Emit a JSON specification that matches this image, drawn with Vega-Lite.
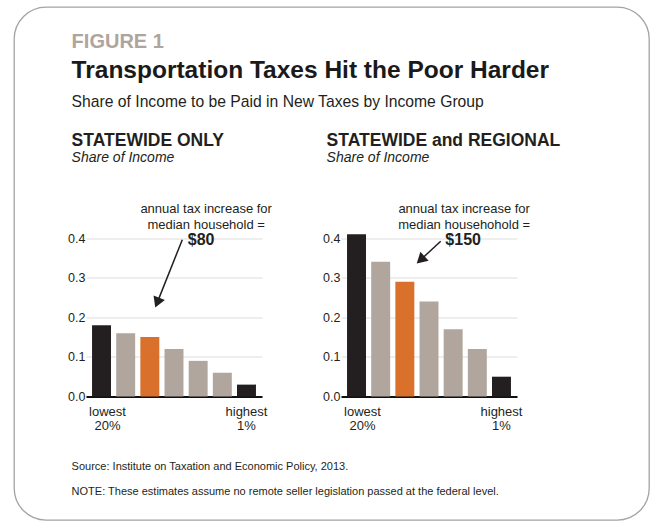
{
  "$schema": "https://vega.github.io/schema/vega-lite/v6.json",
  "padding": {"left": 13, "top": 6, "right": 5, "bottom": 5},
  "background": "white",
  "config": {
    "font": "Liberation Sans",
    "view": {"stroke": null},
    "axis": {"labelFont": "Liberation Sans", "labelColor": "#231f20", "labelFontSize": 13, "title": null}
  },
  "datasets": {
    "statewide": [
      {"group": "Lowest 20%", "share": 0.18},
      {"group": "Second 20%", "share": 0.16},
      {"group": "Middle 20%", "share": 0.15},
      {"group": "Fourth 20%", "share": 0.12},
      {"group": "Next 15%", "share": 0.09},
      {"group": "Next 4%", "share": 0.06},
      {"group": "Top 1%", "share": 0.03}
    ],
    "regional": [
      {"group": "Lowest 20%", "share": 0.41},
      {"group": "Second 20%", "share": 0.34},
      {"group": "Middle 20%", "share": 0.29},
      {"group": "Fourth 20%", "share": 0.24},
      {"group": "Next 15%", "share": 0.17},
      {"group": "Next 4%", "share": 0.12},
      {"group": "Top 1%", "share": 0.05}
    ]
  },
  "columns": 1,
  "align": "none",
  "spacing": -489.5,
  "concat": [
    {
      "width": 635,
      "height": 513,
      "view": {"stroke": "#a3a3a3", "strokeWidth": 1.3, "cornerRadius": 32, "fill": null},
      "data": {"values": []},
      "mark": "point",
      "encoding": {}
    },
    {
      "spacing": 0,
      "hconcat": [
        {
          "width": 53,
          "height": 10,
          "data": {"values": []},
          "mark": "point",
          "encoding": {}
        },
        {
          "title": {
            "text": "FIGURE 1",
            "subtitle": "Transportation Taxes Hit the Poor Harder",
            "anchor": "start",
            "dx": 4,
            "fontSize": 20,
            "fontWeight": "bold",
            "color": "#afa59d",
            "subtitleFontSize": 24.5,
            "subtitleFontWeight": "bold",
            "subtitleColor": "#1a1a1a",
            "subtitlePadding": 7,
            "offset": 12
          },
          "vconcat": [
            {
              "title": {
                "text": "Share of Income to be Paid in New Taxes by Income Group",
                "anchor": "start",
                "dx": 4,
                "fontSize": 15.7,
                "fontWeight": "normal",
                "color": "#231f20",
                "offset": 21
              },
              "vconcat": [
                {
                  "title": {
                    "text": ["Source: Institute on Taxation and Economic Policy, 2013.", "NOTE: These estimates assume no remote seller legislation passed at the federal level."],
                    "orient": "bottom",
                    "anchor": "start",
                    "dx": 4,
                    "fontSize": 11,
                    "fontWeight": "normal",
                    "color": "#231f20",
                    "lineHeight": 25,
                    "offset": 29
                  },
                  "spacing": 50,
                  "hconcat": [
                    {
                      "width": 176,
                      "height": 198,
                      "title": {"text": "STATEWIDE ONLY", "subtitle": "Share of Income", "anchor": "start", "dx": 4, "fontSize": 17.5, "fontWeight": "bold", "color": "#231f20", "subtitleFontSize": 14, "subtitleFontStyle": "italic", "subtitleColor": "#231f20", "subtitlePadding": 1, "offset": 34},
                      "data": {"name": "statewide"},
                      "layer": [
                        {
                          "mark": {"type": "bar"},
                          "encoding": {
                            "x": {"field": "group", "type": "nominal", "sort": null,
                              "scale": {"domain": ["Lowest 20%", "Second 20%", "Middle 20%", "Fourth 20%", "Next 15%", "Next 4%", "Top 1%"], "paddingInner": 0.215, "paddingOuter": 0.25},
                              "axis": {"domainColor": "#111111", "domainWidth": 2, "ticks": false, "labelAngle": 0, "labelPadding": 9, "labelLineHeight": 13.5, "labelBaseline": "top",
                                "labelOffset": {"condition": {"test": "datum.value == 'Lowest 20%'", "value": 6}, "value": 0},
                                "labelExpr": "datum.value == 'Lowest 20%' ? ['lowest', '20%'] : datum.value == 'Top 1%' ? ['highest', '1%'] : ''"}},
                            "y": {"field": "share", "type": "quantitative", "scale": {"domain": [0, 0.5], "nice": false},
                              "axis": {"domain": false, "ticks": false, "grid": true, "gridColor": "#dddddd", "values": [0, 0.1, 0.2, 0.3, 0.4], "format": ".1f", "labelPadding": 1, "labelFontSize": 12.5}},
                            "color": {"field": "group", "type": "nominal", "legend": null,
                              "scale": {"domain": ["Lowest 20%", "Second 20%", "Middle 20%", "Fourth 20%", "Next 15%", "Next 4%", "Top 1%"], "range": ["#231f20", "#b0a69e", "#d9702b", "#b0a69e", "#b0a69e", "#b0a69e", "#231f20"]}}
                          }
                        },
                        {
                          "data": {"values": [{}]},
                          "mark": {"type": "text", "fontSize": 13, "dx": 8, "align": "center", "baseline": "alphabetic", "lineHeight": 15.5, "color": "#231f20"},
                          "encoding": {"x": {"datum": "Next 15%"}, "y": {"datum": 0.463}, "text": {"value": ["annual tax increase for", "median household ="]}}
                        },
                        {
                          "data": {"values": [{}]},
                          "mark": {"type": "text", "fontSize": 16, "fontWeight": "bold", "dx": 3, "align": "center", "baseline": "alphabetic", "color": "#231f20"},
                          "encoding": {"x": {"datum": "Next 15%"}, "y": {"datum": 0.382}, "text": {"value": "$80"}}
                        },
                        {
                          "data": {"values": [{}]},
                          "mark": {"type": "rule", "strokeWidth": 1.5, "color": "#231f20", "xOffset": 8.3, "x2Offset": -16.5},
                          "encoding": {"x": {"datum": "Fourth 20%"}, "x2": {"datum": "Fourth 20%"}, "y": {"datum": 0.396}, "y2": {"datum": 0.239}}
                        },
                        {
                          "data": {"values": [{}]},
                          "mark": {"type": "point", "shape": "triangle-down", "filled": true, "opacity": 1, "size": 150, "angle": 22, "color": "#231f20", "xOffset": 7.4},
                          "encoding": {"x": {"datum": "Middle 20%"}, "y": {"datum": 0.237}}
                        }
                      ]
                    },
                    {
                      "width": 176,
                      "height": 198,
                      "title": {"text": "STATEWIDE and REGIONAL", "subtitle": "Share of Income", "anchor": "start", "dx": 4, "fontSize": 17.5, "fontWeight": "bold", "color": "#231f20", "subtitleFontSize": 14, "subtitleFontStyle": "italic", "subtitleColor": "#231f20", "subtitlePadding": 1, "offset": 34},
                      "data": {"name": "regional"},
                      "layer": [
                        {
                          "mark": {"type": "bar"},
                          "encoding": {
                            "x": {"field": "group", "type": "nominal", "sort": null,
                              "scale": {"domain": ["Lowest 20%", "Second 20%", "Middle 20%", "Fourth 20%", "Next 15%", "Next 4%", "Top 1%"], "paddingInner": 0.215, "paddingOuter": 0.25},
                              "axis": {"domainColor": "#111111", "domainWidth": 2, "ticks": false, "labelAngle": 0, "labelPadding": 9, "labelLineHeight": 13.5, "labelBaseline": "top",
                                "labelOffset": {"condition": {"test": "datum.value == 'Lowest 20%'", "value": 6}, "value": 0},
                                "labelExpr": "datum.value == 'Lowest 20%' ? ['lowest', '20%'] : datum.value == 'Top 1%' ? ['highest', '1%'] : ''"}},
                            "y": {"field": "share", "type": "quantitative", "scale": {"domain": [0, 0.5], "nice": false},
                              "axis": {"domain": false, "ticks": false, "grid": true, "gridColor": "#dddddd", "values": [0, 0.1, 0.2, 0.3, 0.4], "format": ".1f", "labelPadding": 1, "labelFontSize": 12.5}},
                            "color": {"field": "group", "type": "nominal", "legend": null,
                              "scale": {"domain": ["Lowest 20%", "Second 20%", "Middle 20%", "Fourth 20%", "Next 15%", "Next 4%", "Top 1%"], "range": ["#231f20", "#b0a69e", "#d9702b", "#b0a69e", "#b0a69e", "#b0a69e", "#231f20"]}}
                          }
                        },
                        {
                          "data": {"values": [{}]},
                          "mark": {"type": "text", "fontSize": 13, "dx": 11, "align": "center", "baseline": "alphabetic", "lineHeight": 15.5, "color": "#231f20"},
                          "encoding": {"x": {"datum": "Next 15%"}, "y": {"datum": 0.463}, "text": {"value": ["annual tax increase for", "median househohold ="]}}
                        },
                        {
                          "data": {"values": [{}]},
                          "mark": {"type": "text", "fontSize": 16, "fontWeight": "bold", "dx": 10, "align": "center", "baseline": "alphabetic", "color": "#231f20"},
                          "encoding": {"x": {"datum": "Next 15%"}, "y": {"datum": 0.382}, "text": {"value": "$150"}}
                        },
                        {
                          "data": {"values": [{}]},
                          "mark": {"type": "rule", "strokeWidth": 1.5, "color": "#231f20", "xOffset": 11.7, "x2Offset": -8},
                          "encoding": {"x": {"datum": "Fourth 20%"}, "x2": {"datum": "Fourth 20%"}, "y": {"datum": 0.392}, "y2": {"datum": 0.346}}
                        },
                        {
                          "data": {"values": [{}]},
                          "mark": {"type": "point", "shape": "triangle-down", "filled": true, "opacity": 1, "size": 150, "angle": 47.5, "color": "#231f20", "xOffset": -8.4},
                          "encoding": {"x": {"datum": "Fourth 20%"}, "y": {"datum": 0.345}}
                        }
                      ]
                    }
                  ]
                }
              ]
            }
          ]
        }
      ]
    }
  ]
}
